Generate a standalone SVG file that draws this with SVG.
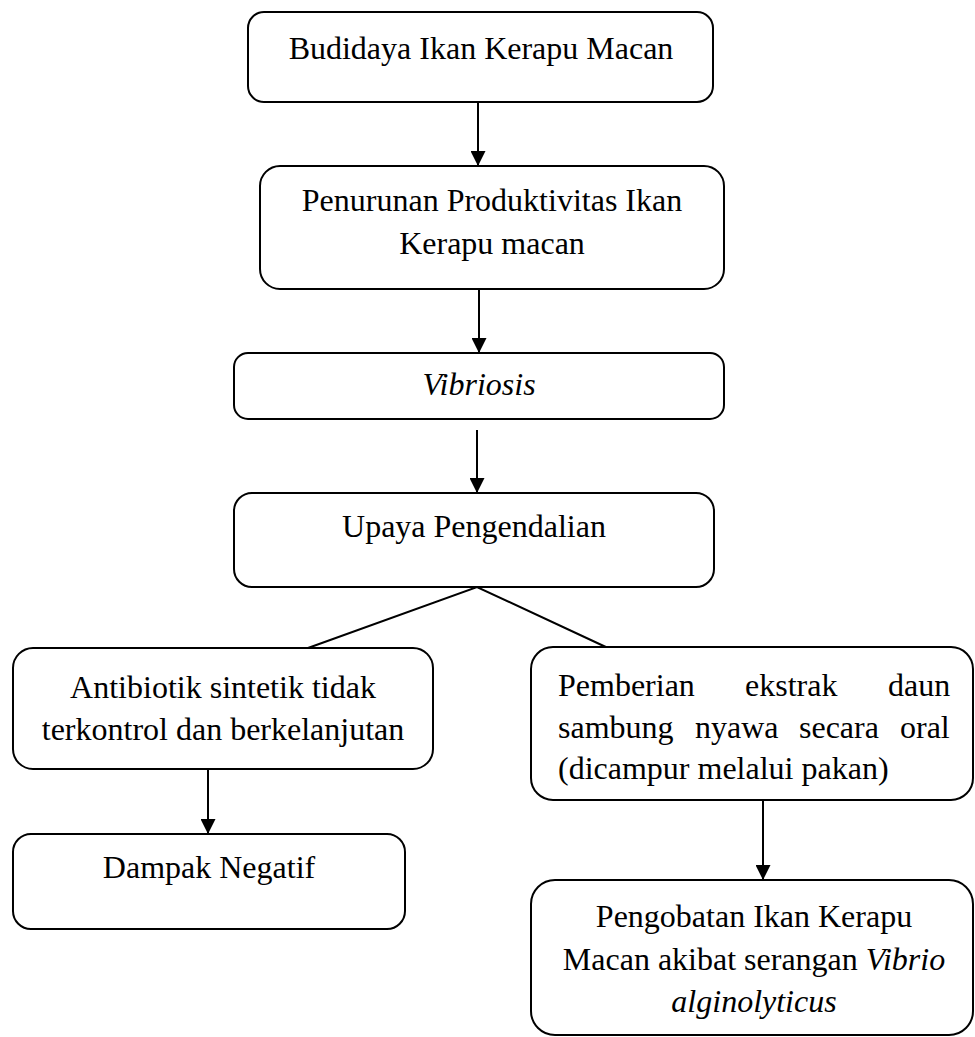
<svg xmlns="http://www.w3.org/2000/svg" width="975" height="1037" viewBox="0 0 975 1037">
<style>
.box{fill:#fff;stroke:#000;stroke-width:2}
.t{font-family:"Liberation Serif","Times New Roman",serif;font-size:32px;fill:#000}
.c{text-anchor:middle}
.i{font-style:italic}
.ln{stroke:#000;stroke-width:2;fill:none}
</style>
<defs>
<marker id="ah" viewBox="0 0 10 10" refX="10" refY="5" markerWidth="15" markerHeight="15" markerUnits="userSpaceOnUse" orient="auto">
<path d="M0,0 L10,5 L0,10 z" fill="#000"/>
</marker>
</defs>
<rect width="975" height="1037" fill="#fff"/>
<g id="connectors">
<line class="ln" x1="478" y1="102" x2="478" y2="166" marker-end="url(#ah)"/>
<line class="ln" x1="479" y1="289" x2="479" y2="353" marker-end="url(#ah)"/>
<line class="ln" x1="477" y1="430" x2="477" y2="493" marker-end="url(#ah)"/>
<polyline class="ln" points="308,648 477,587 608,648"/>
<line class="ln" x1="208" y1="769" x2="208" y2="834" marker-end="url(#ah)"/>
<line class="ln" x1="763" y1="800" x2="763" y2="880" marker-end="url(#ah)"/>
</g>
<g id="n1">
<rect class="box" x="248" y="12" width="465" height="90" rx="16"/>
<text class="t c" x="481" y="59">Budidaya Ikan Kerapu Macan</text>
</g>
<g id="n2">
<rect class="box" x="260" y="166" width="464" height="123" rx="20"/>
<text class="t c" x="492" y="211">Penurunan Produktivitas Ikan</text>
<text class="t c" x="492" y="254">Kerapu macan</text>
</g>
<g id="n3">
<rect class="box" x="234" y="353" width="490" height="66" rx="14"/>
<text class="t c i" x="479" y="395">Vibriosis</text>
</g>
<g id="n4">
<rect class="box" x="234" y="493" width="480" height="94" rx="18"/>
<text class="t c" x="474" y="537">Upaya Pengendalian</text>
</g>
<g id="n5">
<rect class="box" x="13" y="648" width="420" height="121" rx="20"/>
<text class="t c" x="223" y="698">Antibiotik sintetik tidak</text>
<text class="t c" x="223" y="740">terkontrol dan berkelanjutan</text>
</g>
<g id="n6">
<rect class="box" x="531" y="647" width="442" height="153" rx="22"/>
<text class="t" y="696"><tspan x="558">Pemberian</tspan><tspan x="745">ekstrak</tspan><tspan x="888">daun</tspan></text>
<text class="t" y="738"><tspan x="558">sambung</tspan><tspan x="695">nyawa</tspan><tspan x="799">secara</tspan><tspan x="900">oral</tspan></text>
<text class="t" x="558" y="779">(dicampur melalui pakan)</text>
</g>
<g id="n7">
<rect class="box" x="13" y="834" width="392" height="95" rx="18"/>
<text class="t c" x="209" y="878">Dampak Negatif</text>
</g>
<g id="n8">
<rect class="box" x="531" y="880" width="442" height="155" rx="24"/>
<text class="t c" x="754" y="927">Pengobatan Ikan Kerapu</text>
<text class="t c" x="754" y="970">Macan akibat serangan <tspan class="i">Vibrio</tspan></text>
<text class="t c i" x="754" y="1012">alginolyticus</text>
</g>
</svg>
